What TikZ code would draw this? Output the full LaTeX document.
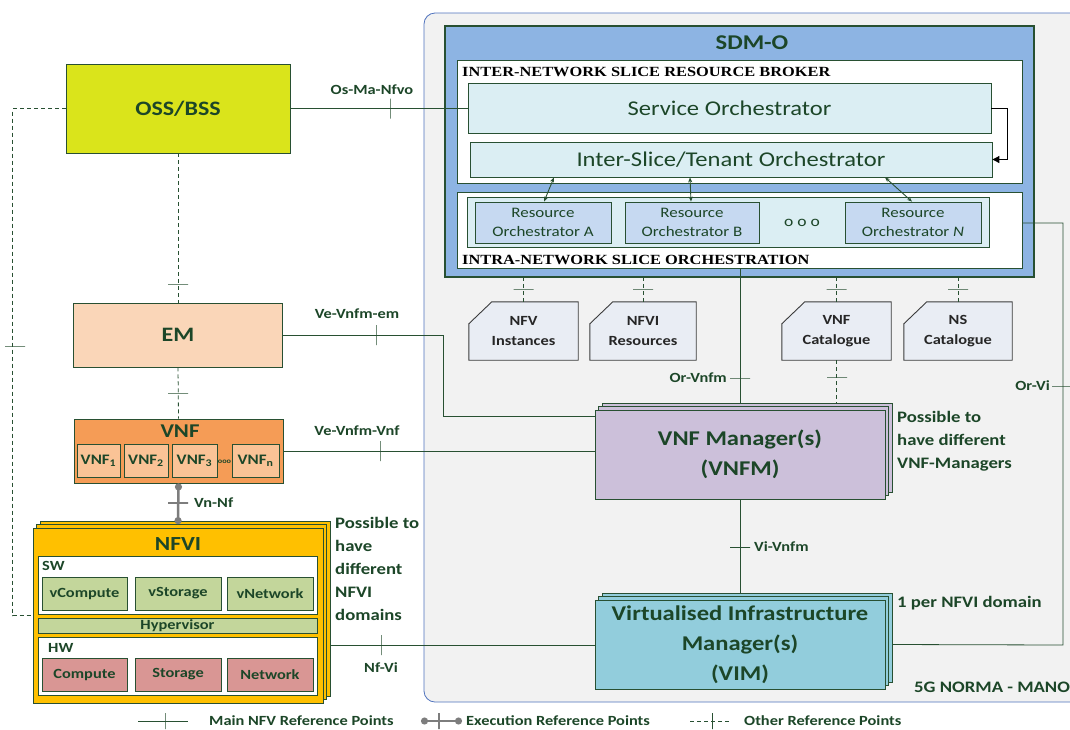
\documentclass[tikz,border=0pt]{standalone}
\usepackage{fontspec}
\setmainfont{Carlito}[FakeStretch=1.17]
\newfontfamily\serifb{Liberation Serif}[FakeStretch=1.17]
\usetikzlibrary{shadows,arrows.meta,calc}
\definecolor{lc}{RGB}{40,80,50}
\definecolor{tc}{RGB}{28,70,40}
\definecolor{manoc}{RGB}{242,242,242}
\definecolor{manob}{RGB}{80,115,190}
\definecolor{sdmoc}{RGB}{141,180,227}
\definecolor{soc}{RGB}{219,238,243}
\definecolor{roc}{RGB}{198,217,241}
\definecolor{ossc}{RGB}{218,228,27}
\definecolor{emc}{RGB}{250,214,184}
\definecolor{vnfc}{RGB}{245,156,86}
\definecolor{vnfsc}{RGB}{250,195,150}
\definecolor{nfvic}{RGB}{255,192,0}
\definecolor{swc}{RGB}{195,214,155}
\definecolor{hwc}{RGB}{217,150,148}
\definecolor{vnfmc}{RGB}{204,192,218}
\definecolor{vimc}{RGB}{146,205,220}
\definecolor{dsc}{RGB}{233,237,244}
\definecolor{dsb}{RGB}{60,60,60}
\definecolor{gc}{RGB}{125,125,125}
\newcommand{\fs}[2]{\fontsize{#1}{#2}\selectfont}
\begin{document}
\begin{tikzpicture}[x=1pt,y=-1pt,
  box/.style={draw=lc, line width=0.8pt, inner sep=0pt, align=center, text=tc},
  conn/.style={draw=lc, line width=0.8pt},
  dconn/.style={draw=lc, line width=0.8pt, dash pattern=on 4pt off 3pt},
  tickv/.style={draw=lc, line width=0.8pt, inner sep=0pt, minimum width=0pt, minimum height=20pt, fill=none},
  tickh/.style={draw=lc, line width=0.8pt, inner sep=0pt, minimum height=0pt, minimum width=20pt, fill=none},
  lbl/.style={text=tc, inner sep=0pt, font=\fs{14}{16}\bfseries},
  stack/.style={double copy shadow={shadow xshift=3.5pt, shadow yshift=3.5pt}},
  ds/.style={inner sep=0pt, align=center, text=black!85, font=\fs{14}{20}\bfseries},
  ro/.style={box, fill=roc, font=\fs{14.5}{19}},
  hdr/.style={inner sep=0pt, anchor=west, font=\serifb\fs{14}{16}\bfseries},
  sub/.style={box, font=\fs{14}{18}\bfseries},
  exec/.style={draw=gc, line width=2.5pt, {Circle[length=7pt]}-{Circle[length=7pt]}}
]
\clip (0,0) rectangle (1070,729);
\fill[white] (0,0) rectangle (1070,729);

% ---------------- MANO region
\node[draw=manob, fill=manoc, line width=0.8pt, rounded corners=11pt, minimum width=680pt, minimum height=689pt, inner sep=0pt] (mano) at (764,357.5) {};
\node[lbl, anchor=west, font=\fs{16}{18}\bfseries] (manolbl) at (914,687) {5G NORMA - MANO};

% ---------------- SDM-O
\node[box, fill=sdmoc, line width=1.2pt, minimum width=589pt, minimum height=251pt] (sdmo) at (739.5,151.5) {};
\node[text=tc, inner sep=0pt, font=\fs{21}{26}\bfseries] (sdmolbl) at (752,43) {SDM-O};
\node[box, fill=white, minimum width=565pt, minimum height=123pt] (interw) at (740,121.5) {};
\node[hdr] (interlbl) at (462,71.5) {INTER-NETWORK SLICE RESOURCE BROKER};
\node[box, fill=soc, minimum width=523pt, minimum height=50pt, font=\fs{21}{24}] (so) at (729.5,108) {Service Orchestrator};
\node[box, fill=soc, minimum width=522pt, minimum height=35pt, font=\fs{21}{24}] (iso) at (731,159.5) {Inter-Slice/Tenant Orchestrator};
\node[box, fill=white, minimum width=565pt, minimum height=76pt] (intraw) at (740,230) {};
\node[box, fill=soc, minimum width=522pt, minimum height=50pt] (rocont) at (728,222) {};
\node[ro, minimum width=136pt, minimum height=41pt] (roA) at (543,222.5) {Resource\\Orchestrator A};
\node[ro, minimum width=134pt, minimum height=41pt] (roB) at (692,222.5) {Resource\\Orchestrator B};
\node[ro, minimum width=136pt, minimum height=41pt] (roN) at (913,222.5) {Resource\\Orchestrator \textit{N}};
\node[text=tc, inner sep=0pt, font=\fs{15}{18}] (rodots) at (802,223) {o o o};
\node[hdr] (intralbl) at (462,259.5) {INTRA-NETWORK SLICE ORCHESTRATION};

\draw[black, line width=0.9pt, -{Triangle[length=7pt,width=7pt]}] (so.east) -- ++(16,0) |- (iso.east);
\draw[lc, line width=0.9pt, {Stealth[length=5pt,width=4pt]}-{Stealth[length=5pt,width=4pt]}] (iso.south -| 554,0) -- (roA.north -| 544,0);
\draw[lc, line width=0.9pt, {Stealth[length=5pt,width=4pt]}-{Stealth[length=5pt,width=4pt]}] (iso.south -| 690,0) -- (roB.north -| 691,0);
\draw[lc, line width=0.9pt, {Stealth[length=5pt,width=4pt]}-{Stealth[length=5pt,width=4pt]}] (iso.south -| 885,0) -- (roN.north -| 912,0);

% ---------------- data stores
\foreach \n/\cx/\w/\t in {nfvinst/523.5/109/{NFV\\Instances}, nfvires/643/106/{NFVI\\Resources}, vnfcat/836.5/109/{VNF\\Catalogue}, nscat/958/108/{NS\\Catalogue}}{
  \node[ds, minimum width=\w pt, minimum height=58pt] (\n) at (\cx,331) {};
  \filldraw[fill=dsc, draw=dsb, line width=0.9pt] ([xshift=23pt]\n.north west) -- (\n.north east) -- (\n.south east) -- (\n.south west) -- ([yshift=-22pt]\n.north west) -- cycle;
  \node[ds] (\n txt) at (\n) {\t};
  \draw[dconn] (\n.north) -- (\n.north |- sdmo.south);
  \node[tickh] (\n tick) at (\n.north |- 0,289) {};
}

% ---------------- VNFM and VIM
\node[box, fill=vnfmc, stack, minimum width=290pt, minimum height=89pt, font=\fs{21}{30}\bfseries] (vnfm) at (740,454.5) {VNF Manager(s)\\(VNFM)};
\node[box, fill=vimc, stack, minimum width=290pt, minimum height=89pt, font=\fs{21}{30}\bfseries] (vim) at (740,644.5) {Virtualised Infrastructure\\Manager(s)\\(VIM)};
\node[lbl, anchor=north west, align=left, font=\fs{16}{23}\bfseries] (vnfmnote) at (897,411) {Possible to\\have different\\VNF-Managers};
\node[lbl, anchor=west, font=\fs{16}{18}\bfseries] (vimnote) at (897,603) {1 per NFVI domain};

% Or-Vnfm
\draw[conn] (intraw.south) -- ([yshift=6pt]vnfm.north);
\node[tickh] (t-orvnfm) at (740,378) {};
\node[lbl, anchor=east] (l-orvnfm) at (727,378) {Or-Vnfm};
% VNF catalogue to VNFM
\draw[dconn] (vnfcat.south) -- (vnfcat.south |- 0,404);
\node[tickh] (t-cat) at (837,377) {};
% Vi-Vnfm
\draw[conn] (vnfm.south) -- ([yshift=6pt]vim.north);
\node[tickh] (t-vivnfm) at (740,547) {};
\node[lbl, anchor=west] (l-vivnfm) at (754,547) {Vi-Vnfm};
% Or-Vi
\draw[conn] (intraw.east |- 0,223) -- (1063,223) -- (1063,645) -- ([xshift=7pt]vim.east);
\node[tickh] (t-orvi) at (1062,386) {};
\node[lbl, anchor=east] (l-orvi) at (1050,386) {Or-Vi};

% ---------------- left side
\node[box, fill=ossc, minimum width=224pt, minimum height=89pt, font=\fs{20.5}{26}\bfseries] (oss) at (178,108.5) {OSS/BSS};
\node[box, fill=emc, minimum width=209pt, minimum height=64pt, font=\fs{20.5}{26}\bfseries] (em) at (178,335) {EM};
\node[box, fill=vnfc, minimum width=209pt, minimum height=64pt] (vnf) at (178.5,451) {};
\node[text=tc, inner sep=0pt, font=\fs{19.5}{24}\bfseries] (vnftitle) at (180,431) {VNF};
\node[sub, fill=vnfsc, minimum width=43pt, minimum height=33pt, font=\fs{14.5}{18}\bfseries] (vnf1) at (98.5,460.5) {VNF\textsubscript{1}};
\node[sub, fill=vnfsc, minimum width=44pt, minimum height=33pt, font=\fs{14.5}{18}\bfseries] (vnf2) at (146,460.5) {VNF\textsubscript{2}};
\node[sub, fill=vnfsc, minimum width=45pt, minimum height=33pt, font=\fs{14.5}{18}\bfseries] (vnf3) at (194.5,460.5) {VNF\textsubscript{3}};
\node[text=tc, inner sep=0pt, font=\fs{7}{9}\bfseries] (vnfdots) at (224.5,462) {ooo};
\node[sub, fill=vnfsc, minimum width=47pt, minimum height=33pt, font=\fs{14.5}{18}\bfseries] (vnfn) at (255.5,460.5) {VNF\textsubscript{n}};

% NFVI
\node[box, fill=nfvic, stack, minimum width=290pt, minimum height=175pt] (nfvi) at (178,615.5) {};
\node[text=tc, inner sep=0pt, font=\fs{20}{26}\bfseries] (nfvititle) at (178,544) {NFVI};
\node[box, fill=white, minimum width=279pt, minimum height=58pt] (sw) at (177.5,585) {};
\node[lbl, anchor=west, font=\fs{14}{18}\bfseries] (swlbl) at (42,566) {SW};
\node[sub, fill=swc, minimum width=85pt, minimum height=33pt] (vcomp) at (84.5,593.5) {vCompute};
\node[sub, fill=swc, minimum width=86pt, minimum height=33pt] (vstor) at (178,593.5) {vStorage};
\node[sub, fill=swc, minimum width=86pt, minimum height=33pt] (vnet) at (270,593.5) {vNetwork};
\node[sub, fill=swc, minimum width=279pt, minimum height=15pt, font=\fs{14}{16}\bfseries] (hyp) at (177.5,625.5) {Hypervisor};
\node[box, fill=white, minimum width=279pt, minimum height=58pt] (hw) at (177.5,666) {};
\node[lbl, anchor=west, font=\fs{14}{18}\bfseries] (hwlbl) at (48,648) {HW};
\node[sub, fill=hwc, minimum width=85pt, minimum height=33pt] (comp) at (84.5,674.5) {Compute};
\node[sub, fill=hwc, minimum width=86pt, minimum height=33pt] (stor) at (178,674.5) {Storage};
\node[sub, fill=hwc, minimum width=86pt, minimum height=33pt] (net) at (270,674.5) {Network};
\node[lbl, anchor=north west, align=left, font=\fs{16}{23}\bfseries] (nfvinote) at (335,517) {Possible to\\have\\different\\NFVI\\domains};

% connectors left
\draw[conn] (oss.east) -- (oss.east -| so.west);
\node[tickv] (t-osma) at (390,108.5) {};
\node[lbl] (l-osma) at (372,90) {Os-Ma-Nfvo};

\draw[dconn] (oss.south) -- (em.north);
\node[tickh] (t-ossem) at (178,284) {};
\draw[dconn] (em.south) -- (vnf.north);
\node[tickh] (t-emvnf) at (178,393) {};
\draw[dconn] (oss.west) -- ++(-53,0) |- (nfvi.west);
\node[tickh] (t-left) at (15,346) {};

\draw[conn] (em.east) -- (443,335) -- (443,416) -- (vnfm.west |- 0,416);
\node[tickv] (t-veem) at (376,335) {};
\node[lbl] (l-veem) at (357,314) {Ve-Vnfm-em};

\draw[conn] (vnf.east) -- (vnf.east -| vnfm.west);
\node[tickv] (t-vevnf) at (380,451) {};
\node[lbl] (l-vevnf) at (357,431) {Ve-Vnfm-Vnf};

\draw[exec] (vnf.south) -- ([yshift=3.5pt]nfvi.north);
\node[tickh, draw=gc, line width=2pt] (t-vnnf) at (178,503) {};
\node[lbl, anchor=west, font=\fs{14}{18}\bfseries] (l-vnnf) at (194,503) {Vn-Nf};

\draw[conn] ([xshift=7pt]nfvi.east |- 0,645) -- (vim.west |- 0,645);
\node[tickv] (t-nfvi) at (381,645) {};
\node[lbl] (l-nfvi) at (381,668) {Nf-Vi};

% ---------------- legend
\coordinate (m1) at (138,721); \coordinate (m2) at (188,721);
\draw[conn] (m1) -- (m2);
\node[tickv, minimum height=16pt] (lt1) at (165,721) {};
\node[lbl, anchor=west, font=\fs{14}{16}\bfseries] (lg1) at (209,721) {Main NFV Reference Points};
\coordinate (e1) at (421,721); \coordinate (e2) at (462,721);
\draw[exec, line width=2pt] (e1) -- (e2);
\node[tickv, minimum height=16pt, draw=gc, line width=1.5pt] (lt2) at (439,721) {};
\node[lbl, anchor=west, font=\fs{14}{16}\bfseries] (lg2) at (466,721) {Execution Reference Points};
\coordinate (o1) at (690,721); \coordinate (o2) at (729,721);
\draw[dconn] (o1) -- (o2);
\node[tickv, minimum height=16pt] (lt3) at (712,721) {};
\node[lbl, anchor=west, font=\fs{14}{16}\bfseries] (lg3) at (744,721) {Other Reference Points};
\end{tikzpicture}
\end{document}
